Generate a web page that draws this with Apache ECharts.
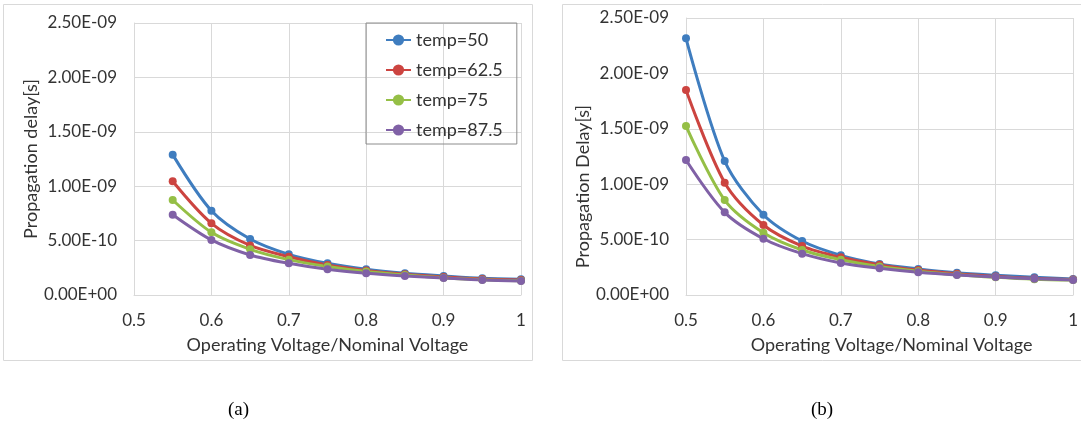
<!DOCTYPE html>
<html>
<head>
<meta charset="utf-8">
<script src="https://cdn.jsdelivr.net/npm/echarts@6/dist/echarts.min.js"></script>
<style>
  html, body { margin: 0; padding: 0; background: #fff; }
  #main { width: 1081px; height: 426px; }
</style>
</head>
<body>
<div id="main"></div>
<script>
// voltage ratios (x) for each panel
const voltA = [0.55, 0.6, 0.65, 0.7, 0.75, 0.8, 0.85, 0.9, 0.95, 1.0];
const voltB = [0.5, 0.55, 0.6, 0.65, 0.7, 0.75, 0.8, 0.85, 0.9, 0.95, 1.0];

const tempNames = ['temp=50', 'temp=62.5', 'temp=75', 'temp=87.5'];

// panel (a) propagation delay [s]
const a50 = [1.29e-9, 7.75e-10, 5.15e-10, 3.74e-10, 2.91e-10, 2.36e-10, 2.00e-10, 1.75e-10, 1.53e-10, 1.44e-10];
const a62 = [1.045e-9, 6.59e-10, 4.56e-10, 3.52e-10, 2.75e-10, 2.25e-10, 1.90e-10, 1.65e-10, 1.47e-10, 1.38e-10];
const a75 = [8.73e-10, 5.76e-10, 4.20e-10, 3.25e-10, 2.62e-10, 2.15e-10, 1.83e-10, 1.58e-10, 1.40e-10, 1.32e-10];
const a87 = [7.38e-10, 5.06e-10, 3.68e-10, 2.91e-10, 2.36e-10, 2.00e-10, 1.75e-10, 1.56e-10, 1.38e-10, 1.29e-10];

// panel (b) propagation delay [s]
const b50 = [2.317e-9, 1.209e-9, 7.25e-10, 4.87e-10, 3.58e-10, 2.80e-10, 2.35e-10, 2.00e-10, 1.78e-10, 1.60e-10, 1.44e-10];
const b62 = [1.85e-9, 1.014e-9, 6.32e-10, 4.42e-10, 3.40e-10, 2.72e-10, 2.25e-10, 1.92e-10, 1.68e-10, 1.50e-10, 1.40e-10];
const b75 = [1.525e-9, 8.57e-10, 5.62e-10, 4.06e-10, 3.18e-10, 2.58e-10, 2.15e-10, 1.83e-10, 1.60e-10, 1.43e-10, 1.35e-10];
const b87 = [1.218e-9, 7.46e-10, 5.08e-10, 3.73e-10, 2.89e-10, 2.41e-10, 2.05e-10, 1.80e-10, 1.62e-10, 1.47e-10, 1.35e-10];

const colors = ['#3f7dbf', '#cc4440', '#95bf46', '#8061a6'];
const font = 'Lato, "Open Sans", sans-serif';
const txt = '#333333';

// Excel-ish scientific labels: 2.50E-09
function sci(v) {
    if (v === 0) return '0.00E+00';
    let s = v.toExponential(2).toUpperCase();
    let parts = s.split('E');
    let exp = parseInt(parts[1], 10);
    let sign = exp < 0 ? '-' : '+';
    let abs = Math.abs(exp);
    return parts[0] + 'E' + sign + (abs < 10 ? '0' + abs : abs);
}

function zip(xs, ys) {
    return xs.map((x, i) => [x, ys[i]]);
}

function makeX(idx, min, namePad) {
    return {
        gridIndex: idx, type: 'value', min: min, max: 1, interval: 0.1,
        name: 'Operating Voltage/Nominal Voltage', nameLocation: 'middle', nameGap: 41,
        nameTextStyle: { fontFamily: font, fontSize: 18, color: txt, padding: namePad },
        axisLine: { show: true, lineStyle: { color: '#d9d9d9' } },
        axisTick: { show: false },
        splitLine: { show: true, lineStyle: { color: '#d9d9d9' } },
        axisLabel: { fontFamily: font, fontSize: 17, color: txt, margin: 17 }
    };
}

function makeY(idx, name, namePad, gap) {
    return {
        gridIndex: idx, type: 'value', min: 0, max: 2.5e-9, interval: 5e-10,
        name: name, nameLocation: 'middle', nameGap: gap,
        nameTextStyle: { fontFamily: font, fontSize: 18, color: txt, padding: namePad },
        axisLine: { show: true, lineStyle: { color: '#d9d9d9' } },
        axisTick: { show: false },
        splitLine: { show: true, lineStyle: { color: '#d9d9d9' } },
        axisLabel: { fontFamily: font, fontSize: 17, color: txt, margin: 17, formatter: sci }
    };
}

function line(name, idx, data, color) {
    return {
        name: name, type: 'line', xAxisIndex: idx, yAxisIndex: idx,
        data: data, smooth: 0.3, symbol: 'circle', symbolSize: 8,
        lineStyle: { width: 3, color: color },
        itemStyle: { color: color },
        emphasis: { disabled: true }
    };
}

const seriesA = [a50, a62, a75, a87];
const seriesB = [b50, b62, b75, b87];

const chart = echarts.init(document.getElementById('main'));
chart.setOption({
    animation: false,
    color: colors,
    grid: [
        { left: 134, right: 1081 - 521, top: 23, bottom: 426 - 295 },
        { left: 686, right: 1, top: 18, bottom: 426 - 295 }
    ],
    xAxis: [makeX(0, 0.5, [0, 0, 0, 0]), makeX(1, 0.5, [0, 0, 0, 24])],
    yAxis: [makeY(0, 'Propagation delay[s]', [0, 0, 0, 0], 94), makeY(1, 'Propagation Delay[s]', [0, 60, 0, 0], 92)],
    legend: {
        orient: 'vertical', left: 366, top: 23,
        data: tempNames,
        itemWidth: 25, itemHeight: 14, itemGap: 12,
        padding: [8, 14, 5, 19],
        borderColor: '#8c8c8c', borderWidth: 1,
        textStyle: { fontFamily: font, fontSize: 18, color: txt, lineHeight: 14 }
    },
    graphic: [
        { type: 'rect', shape: { x: 3.5, y: 4.5, width: 529, height: 356 },
          style: { fill: 'none', stroke: '#d9d9d9', lineWidth: 1 }, silent: true, z: -1 },
        { type: 'rect', shape: { x: 562.5, y: 4.5, width: 600, height: 356 },
          style: { fill: 'none', stroke: '#d9d9d9', lineWidth: 1 }, silent: true, z: -1 },
        { type: 'text', left: 228, top: 401,
          style: { text: '(a)', font: '19px "Liberation Serif", serif', fill: '#000' } },
        { type: 'text', left: 811, top: 401,
          style: { text: '(b)', font: '19px "Liberation Serif", serif', fill: '#000' } }
    ],
    series: seriesA.map((d, i) => line(tempNames[i], 0, zip(voltA, d), colors[i]))
        .concat(seriesB.map((d, i) => line(tempNames[i], 1, zip(voltB, d), colors[i])))
});
</script>
</body>
</html>
